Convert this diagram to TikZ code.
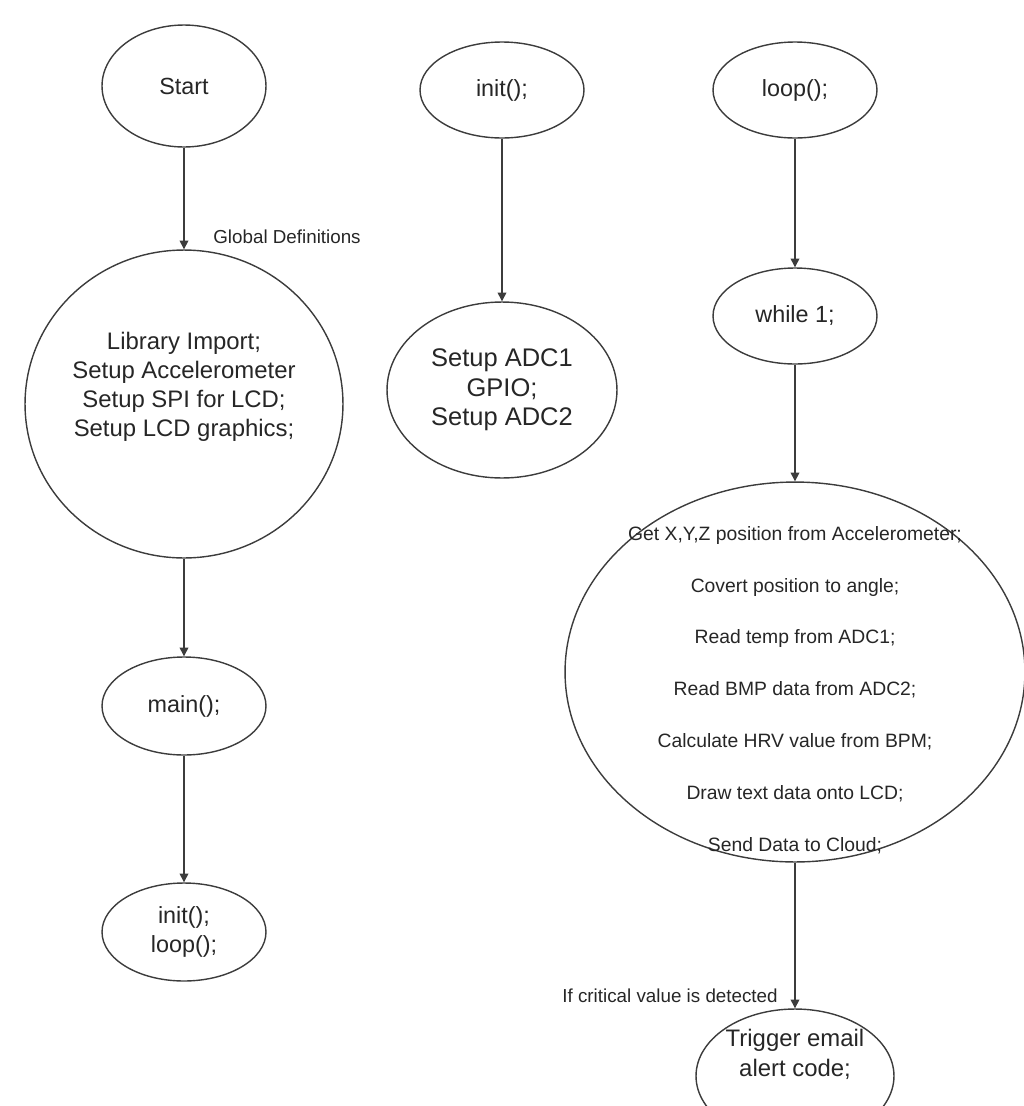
\documentclass[tikz,border=0pt]{standalone}
\usepackage{fontspec}
\setmainfont{Liberation Sans}
\usetikzlibrary{shapes.geometric,arrows.meta}

\definecolor{linegray}{HTML}{3C3C3C}
\definecolor{textgray}{HTML}{262626}

\tikzset{
  oval/.style={ellipse, draw=linegray, line width=0.8pt, inner sep=0pt,
    text=textgray, align=center, font=\fontsize{13.3}{16.4}\selectfont},
  flow/.style={draw=linegray, line width=0.7pt, -{Triangle[length=5pt,width=5pt]}},
  note/.style={text=textgray, inner sep=0pt, font=\fontsize{10.7}{13}\selectfont},
}

\begin{document}
\begin{tikzpicture}[x=0.02cm, y=-0.02cm]

\useasboundingbox (0,0) rectangle (1024,1106);
\clip (0,0) rectangle (1024,1106);

% Left column: program start
\node[oval, minimum width=3.28cm, minimum height=2.44cm] (start) at (184,86) {Start};
\node[oval, minimum width=6.36cm, minimum height=6.16cm] (globals) at (184,404) {};
\node[text=textgray, align=center, font=\fontsize{13.6}{16.4}\selectfont] (globtxt) at (184,387)
  {Library Import;\\Setup Accelerometer\\Setup SPI for LCD;\\Setup LCD graphics;};
\node[oval, minimum width=3.28cm, minimum height=1.96cm] (main) at (184,706) {main();};
\node[oval, minimum width=3.28cm, minimum height=1.96cm] (calls) at (184,932) {init();\\loop();};

% Middle column: init()
\node[oval, minimum width=3.28cm, minimum height=1.92cm] (init) at (502,90) {init();};
\node[oval, minimum width=4.6cm, minimum height=3.52cm, font=\fontsize{14.5}{16.7}\selectfont]
  (setup) at (502,390) {Setup ADC1\\GPIO;\\Setup ADC2};

% Right column: loop()
\node[oval, minimum width=3.28cm, minimum height=1.92cm] (loop) at (795,90) {loop();};
\node[oval, minimum width=3.28cm, minimum height=1.92cm] (while) at (795,316) {while 1;};
\node[oval, minimum width=9.2cm, minimum height=7.6cm] (body) at (795,672) {};
\node[text=textgray, align=center, font=\fontsize{11}{29.5}\selectfont] (bodytxt) at (795,690)
  {Get X,Y,Z position from Accelerometer;\\Covert position to angle;\\Read temp from ADC1;\\
   Read BMP data from ADC2;\\Calculate HRV value from BPM;\\Draw text data onto LCD;\\
   Send Data to Cloud;};
\node[oval, minimum width=3.96cm, minimum height=2.68cm] (alert) at (795,1076) {};
\node[text=textgray, align=center, font=\fontsize{13.6}{17}\selectfont] (alerttxt) at (795,1054)
  {Trigger email\\alert code;};

% Arrows
\draw[flow] (start) -- (globals);
\draw[flow] (globals) -- (main);
\draw[flow] (main) -- (calls);
\draw[flow] (init) -- (setup);
\draw[flow] (loop) -- (while);
\draw[flow] (while) -- (body);
\draw[flow] (body) -- (alert);

% Arrow labels
\node[note, anchor=west] (globlbl) at (213,237) {Global Definitions};
\node[note, anchor=east] (critlbl) at (778,996) {If critical value is detected};

\end{tikzpicture}
\end{document}
